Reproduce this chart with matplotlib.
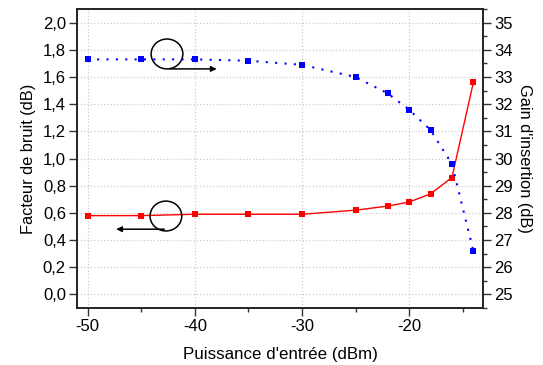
import matplotlib
matplotlib.use("Agg")
import matplotlib.pyplot as plt
from matplotlib.patches import Ellipse
from matplotlib.ticker import MultipleLocator, FuncFormatter

plt.rcParams['font.family'] = ['Liberation Sans', 'DejaVu Sans']

power = [-50, -45, -40, -35, -30, -25, -22, -20, -18, -16, -14]
noise_figure = [0.58, 0.58, 0.59, 0.59, 0.59, 0.62, 0.65, 0.68, 0.74, 0.86, 1.56]
gain = [33.65, 33.65, 33.65, 33.60, 33.45, 33.0, 32.4, 31.8, 31.05, 29.8, 26.6]

fig = plt.figure(figsize=(5.43, 3.65), dpi=100)
ax = fig.add_axes([0.1418, 0.1562, 0.7477, 0.8188])
ax2 = ax.twinx()

ax.plot(power, noise_figure, color='#ff0000', lw=1.0, marker='s', ms=5,
        markeredgewidth=0, zorder=3)
ax2.plot(power, gain, color='#0000ff', lw=1.5, ls=(0, (1, 3.5)), marker='s', ms=5,
         markeredgewidth=0, zorder=3)

ax.set_xlim(-51.0, -13.1)
ax.set_ylim(-0.1, 2.1)
ax2.set_ylim(24.5, 35.5)

ax.xaxis.set_major_locator(MultipleLocator(10))
ax.xaxis.set_minor_locator(MultipleLocator(5))
ax.yaxis.set_major_locator(MultipleLocator(0.2))
ax2.yaxis.set_major_locator(MultipleLocator(1))
ax2.yaxis.set_minor_locator(MultipleLocator(0.5))
ax.yaxis.set_major_formatter(FuncFormatter(lambda v, p: f"{v:.1f}".replace('.', ',')))
ax.xaxis.set_major_formatter(FuncFormatter(lambda v, p: f"{int(round(v))}"))

ax.grid(True, which='major', color='#cccccc', ls=':', lw=0.9)
ax.set_axisbelow(True)

for a in (ax, ax2):
    a.tick_params(direction='out', labelsize=12, width=1.0, length=5.5, color='#333333', pad=2.5)
    a.tick_params(which='minor', direction='out', length=3, width=1.0, color='#333333')
    for s in a.spines.values():
        s.set_linewidth(1.2)
        s.set_color('#222222')

ax.set_xlabel("Puissance d'entrée (dBm)", fontsize=12.2, labelpad=9)
ax.set_ylabel("Facteur de bruit (dB)", fontsize=11.8, labelpad=5)
ax2.set_ylabel("Gain d'insertion (dB)", fontsize=11.8, rotation=270, labelpad=14)

# annotation ellipses and arrows
ax.add_patch(Ellipse((-42.6, 1.77), 2.96, 0.22, fill=False, ec='black', lw=1.1, zorder=4))
ax.annotate('', xy=(-37.7, 1.66), xytext=(-42.6, 1.66),
            arrowprops=dict(arrowstyle='-|>', color='black', lw=1.1, mutation_scale=8), zorder=4)
ax.add_patch(Ellipse((-42.7, 0.577), 2.96, 0.22, fill=False, ec='black', lw=1.1, zorder=4))
ax.annotate('', xy=(-47.6, 0.48), xytext=(-42.6, 0.48),
            arrowprops=dict(arrowstyle='-|>', color='black', lw=1.1, mutation_scale=8), zorder=4)

fig.savefig('out.png', dpi=100)
